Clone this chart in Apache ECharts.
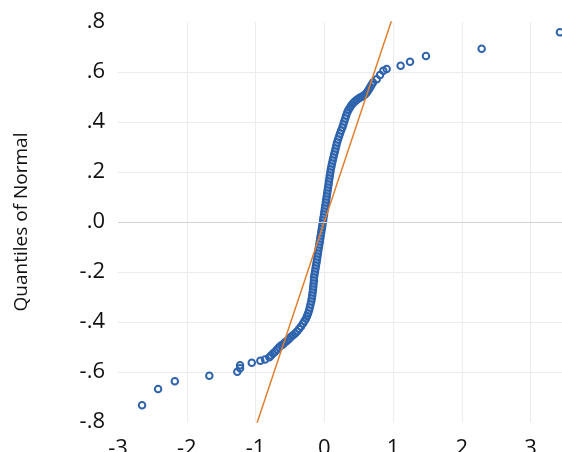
<!DOCTYPE html>
<html>
<head>
<meta charset="utf-8">
<script src="https://cdn.jsdelivr.net/npm/echarts@6/dist/echarts.min.js"></script>
<style>
  html, body { margin: 0; padding: 0; background: #fff; }
  #chart { width: 562px; height: 452px; }
</style>
</head>
<body>
<div id="chart"></div>
<script>
// sample values (x) against quantiles of normal (y)
const sampleX = [
  -2.650, -2.417, -2.174, -1.672, -1.265, -1.225, -1.225, -1.055, -0.930, -0.862,
  -0.799, -0.775, -0.746, -0.717, -0.688, -0.658, -0.629, -0.600, -0.571, -0.542,
  -0.513, -0.484, -0.455, -0.426, -0.397,
  -0.368, -0.339, -0.310, -0.288, -0.266, -0.251, -0.237, -0.222, -0.211, -0.201,
  -0.190, -0.183, -0.176, -0.170, -0.164, -0.160, -0.156, -0.150,
  -0.150, -0.142, -0.135, -0.128, -0.121, -0.113, -0.106, -0.100, -0.093, -0.087,
  -0.080, -0.073, -0.065, -0.060, -0.052, -0.045, -0.038, -0.031, -0.025, -0.017,
  -0.012, -0.004, 0.001, 0.009, 0.015, 0.022, 0.028, 0.035, 0.041, 0.048,
  0.054, 0.061, 0.067, 0.074, 0.080, 0.087, 0.094,
  0.103, 0.112, 0.122, 0.132, 0.142, 0.154, 0.164, 0.174, 0.185, 0.199,
  0.214, 0.228, 0.244, 0.262, 0.276, 0.289, 0.304, 0.317, 0.333, 0.350,
  0.371, 0.391, 0.414, 0.439, 0.465, 0.493, 0.522, 0.551, 0.580, 0.606,
  0.629, 0.650, 0.669, 0.688, 0.708,
  0.762, 0.810, 0.858, 0.907, 1.110, 1.246, 1.478, 2.288, 3.426
];
const normalY = [
  -0.733, -0.668, -0.637, -0.615, -0.599, -0.585, -0.573, -0.563, -0.555, -0.550,
  -0.541, -0.534, -0.526, -0.519, -0.510, -0.501, -0.494, -0.489, -0.481, -0.475,
  -0.468, -0.459, -0.453, -0.446, -0.438,
  -0.428, -0.418, -0.406, -0.396, -0.386, -0.376, -0.366, -0.354, -0.342, -0.330,
  -0.318, -0.306, -0.294, -0.282, -0.270, -0.258, -0.246, -0.234,
  -0.222, -0.210, -0.198, -0.186, -0.174, -0.162, -0.150, -0.138, -0.126, -0.114,
  -0.102, -0.090, -0.078, -0.066, -0.054, -0.042, -0.030, -0.018, -0.006, 0.006,
  0.018, 0.030, 0.042, 0.054, 0.066, 0.078, 0.090, 0.102, 0.114, 0.126,
  0.138, 0.150, 0.162, 0.174, 0.186, 0.198, 0.210,
  0.222, 0.234, 0.246, 0.258, 0.270, 0.282, 0.294, 0.306, 0.318, 0.330,
  0.342, 0.354, 0.366, 0.378, 0.390, 0.402, 0.414, 0.426, 0.438, 0.448,
  0.457, 0.466, 0.474, 0.481, 0.487, 0.493, 0.498, 0.502, 0.507, 0.514,
  0.522, 0.531, 0.540, 0.549, 0.558,
  0.571, 0.588, 0.605, 0.612, 0.625, 0.641, 0.664, 0.693, 0.759
];
// reference line end points
const lineX = [-1.0, 1.0];
const lineY = [-0.822, 0.824];

const points = sampleX.map((x, i) => [x, normalY[i]]);
const refLine = lineX.map((x, i) => [x, lineY[i]]);

const chart = echarts.init(document.getElementById("chart"));
const options = {
  animation: false,
  grid: {
    left: 118,
    right: -3,
    top: 22,
    bottom: 30,
    outerBoundsMode: "none"
  },
  xAxis: {
    type: "value",
    min: -3,
    max: 3.5,
    interval: 1,
    axisLine: { show: false, onZero: false },
    axisTick: { show: false },
    splitLine: {
      show: true,
      showMinLine: false,
      showMaxLine: false,
      lineStyle: { color: "#ececec", width: 1 }
    },
    axisLabel: {
      margin: 16,
      color: "#111",
      fontSize: 22,
      fontFamily: "Open Sans",
      formatter: function(v) {
        return v > 3 ? "" : String(v);
      }
    }
  },
  yAxis: {
    type: "value",
    min: -0.8,
    max: 0.8,
    interval: 0.2,
    name: "Quantiles of Normal",
    nameLocation: "middle",
    nameRotate: 90,
    nameGap: 87,
    nameTextStyle: {
      color: "#111",
      fontSize: 19,
      fontFamily: "Open Sans"
    },
    axisLine: { show: false },
    axisTick: { show: false },
    splitLine: {
      show: true,
      showMinLine: false,
      showMaxLine: false,
      lineStyle: { color: "#ececec", width: 1 }
    },
    axisLabel: {
      margin: 13,
      color: "#111",
      fontSize: 22,
      fontFamily: "Open Sans",
      formatter: function(v) {
        return v.toFixed(1).replace("0.", ".");
      }
    }
  },
  series: [
    {
      type: "scatter",
      data: points,
      symbol: "circle",
      symbolSize: 6.5,
      itemStyle: {
        color: "rgba(0,0,0,0)",
        borderColor: "#2e63ad",
        borderWidth: 2,
        opacity: 1
      },
      markLine: {
        silent: true,
        symbol: "none",
        label: { show: false },
        lineStyle: { color: "#d2d2d2", type: "solid", width: 1 },
        data: [{ yAxis: 0 }]
      },
      z: 2
    },
    {
      type: "line",
      data: refLine,
      symbol: "none",
      clip: true,
      lineStyle: { color: "#e0802f", width: 1.5 },
      z: 3
    }
  ]
};
chart.setOption(options);
</script>
</body>
</html>
